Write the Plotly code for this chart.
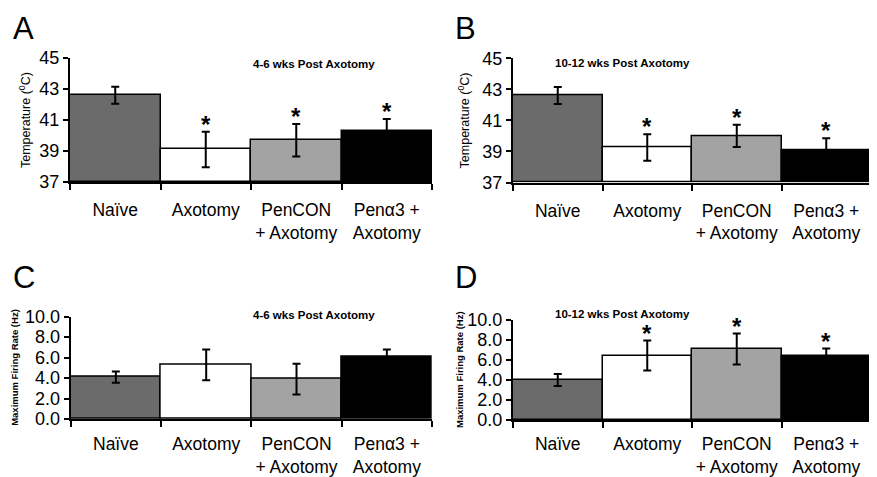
import plotly.graph_objects as go

categories = ["Naïve", "Axotomy", "PenCON<br>+ Axotomy", "Penα3 +<br>Axotomy"]
bar_colors = ["#6b6b6b", "#ffffff", "#a3a3a3", "#000000"]

temp_4_6 = [42.6, 39.1, 39.7, 40.3]
temp_4_6_err = [0.55, 1.15, 1.05, 0.77]
temp_4_6_sig = [False, True, True, True]

temp_10_12 = [42.6, 39.25, 40.0, 39.05]
temp_10_12_err = [0.55, 0.85, 0.72, 0.8]
temp_10_12_sig = [False, True, True, True]

rate_4_6 = [4.1, 5.3, 3.9, 6.1]
rate_4_6_err = [0.55, 1.5, 1.5, 0.7]
rate_4_6_sig = [False, False, False, False]

rate_10_12 = [4.0, 6.45, 7.1, 6.4]
rate_10_12_err = [0.6, 1.5, 1.55, 0.75]
rate_10_12_sig = [False, True, True, True]

# page body has an 8px margin; size the figure to fit the window
OFF = 8
W, H = 877 - OFF, 477 - OFF


def px(x):
    return (x - OFF) / W


def py(y):
    return 1 - (y - OFF) / H


panels = [
    dict(letter="A", title="4-6 wks Post Axotomy", vals=temp_4_6, err=temp_4_6_err, sig=temp_4_6_sig,
         rng=[37, 45], dtick=2, fmt="d", ytitle="Temperature (<sup>0</sup>C)", bold=False,
         xd=[px(70), px(432)], yd=[py(182), py(58)], title_y=64, letter_xy=(11, 9), ytx=25,
         standoff=11),
    dict(letter="B", title="10-12 wks Post Axotomy", vals=temp_10_12, err=temp_10_12_err, sig=temp_10_12_sig,
         rng=[37, 45], dtick=2, fmt="d", ytitle="Temperature (<sup>0</sup>C)", bold=False,
         xd=[px(513), px(871)], yd=[py(182.5), py(58.3)], title_y=63, letter_xy=(453, 9), ytx=464,
         standoff=11),
    dict(letter="C", title="4-6 wks Post Axotomy", vals=rate_4_6, err=rate_4_6_err, sig=rate_4_6_sig,
         rng=[0, 10], dtick=2, fmt=".1f", ytitle="<b>Maximum Firing Rate (Hz)</b>", bold=True,
         xd=[px(70.7), px(432)], yd=[py(419), py(316.7)], title_y=315, letter_xy=(11, 258), ytx=15,
         standoff=8),
    dict(letter="D", title="10-12 wks Post Axotomy", vals=rate_10_12, err=rate_10_12_err, sig=rate_10_12_sig,
         rng=[0, 10], dtick=2, fmt=".1f", ytitle="<b>Maximum Firing Rate (Hz)</b>", bold=True,
         xd=[px(513), px(871)], yd=[py(420), py(320)], title_y=314, letter_xy=(453, 258), ytx=459,
         standoff=7),
]

FONT = "Liberation Sans, Arial, sans-serif"
fig = go.Figure()
annotations = []
layout = {}

for i, p in enumerate(panels, start=1):
    xa = "x" if i == 1 else f"x{i}"
    ya = "y" if i == 1 else f"y{i}"
    fig.add_trace(go.Bar(
        x=categories, y=[v - p["rng"][0] for v in p["vals"]], base=p["rng"][0],
        xaxis=xa, yaxis=ya,
        marker=dict(color=bar_colors, line=dict(color="black", width=1.5)),
        error_y=dict(type="data", array=p["err"], color="black", thickness=2, width=4),
        showlegend=False, hoverinfo="skip",
    ))
    xkey = "xaxis" if i == 1 else f"xaxis{i}"
    ykey = "yaxis" if i == 1 else f"yaxis{i}"
    layout[xkey] = dict(domain=p["xd"], anchor=ya, showline=True, linecolor="black", linewidth=2,
                        ticks="outside", tickson="boundaries", ticklen=6, tickwidth=1.5,
                        tickcolor="black", showgrid=False, zeroline=False, tickangle=0,
                        ticklabelstandoff=p["standoff"], automargin=False,
                        tickfont=dict(family=FONT, size=17.5, color="black"), fixedrange=True)
    layout[ykey] = dict(domain=p["yd"], anchor=xa, range=p["rng"], dtick=p["dtick"],
                        tick0=p["rng"][0], automargin=False,
                        tickformat=p["fmt"], showline=True, linecolor="black", linewidth=2,
                        ticks="outside", ticklen=5, tickwidth=1.5, tickcolor="black",
                        showgrid=False, zeroline=False,
                        tickfont=dict(family=FONT, size=18, color="black"), fixedrange=True)
    # asterisks
    for c, v, e, s in zip(categories, p["vals"], p["err"], p["sig"]):
        if s:
            annotations.append(dict(x=c, y=v + e, xref=xa, yref=ya, text="<b>*</b>",
                                    showarrow=False, yanchor="bottom", yshift=-8,
                                    font=dict(family=FONT, size=24, color="black")))
    # title
    x0, x1 = p["xd"]
    annotations.append(dict(x=(x0 + x1) / 2, y=py(p["title_y"]), xref="paper", yref="paper",
                            text=f"<b>{p['title']}</b>", showarrow=False, yanchor="middle",
                            font=dict(family=FONT, size=11.5, color="black")))
    # panel letter
    lx, ly = p["letter_xy"]
    annotations.append(dict(x=px(lx), y=py(ly), xref="paper", yref="paper", text=p["letter"],
                            showarrow=False, xanchor="left", yanchor="top",
                            font=dict(family=FONT, size=31, color="black")))
    # y title
    annotations.append(dict(x=px(p["ytx"]), y=(p["yd"][0] + p["yd"][1]) / 2, xref="paper", yref="paper",
                            text=p["ytitle"], showarrow=False, textangle=-90,
                            xanchor="center", yanchor="middle",
                            font=dict(family=FONT, size=12.5 if not p["bold"] else 9.5, color="black")))

fig.update_layout(
    template="none",
    width=W, height=H, margin=dict(l=0, r=0, t=0, b=0, pad=0, autoexpand=False),
    paper_bgcolor="white", plot_bgcolor="white", bargap=0,
    annotations=annotations, **layout,
)

fig.write_html("out.html")
